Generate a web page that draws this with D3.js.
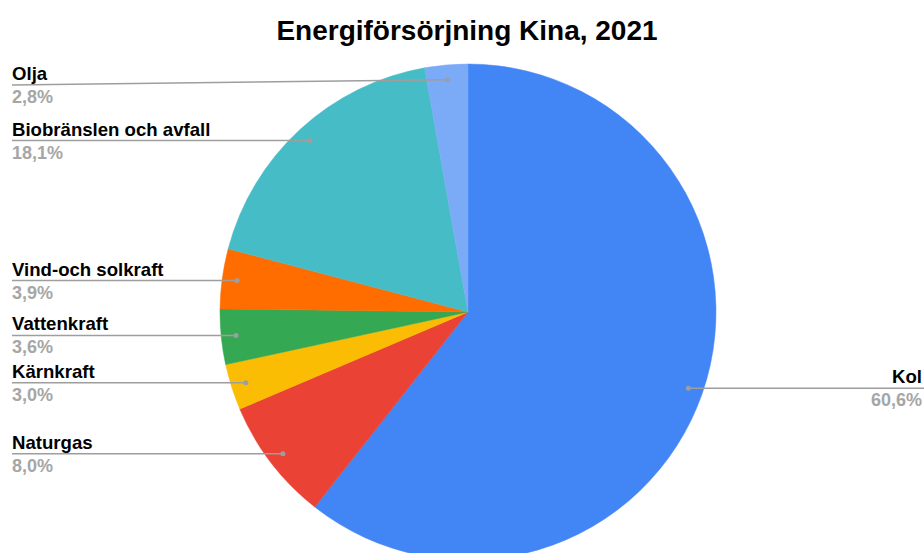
<!DOCTYPE html>
<html>
<head>
<meta charset="utf-8">
<script src="https://cdn.jsdelivr.net/npm/d3@7"></script>
<style>
  body { margin: 0; background: #fff; }
  svg { display: block; font-family: "Liberation Sans", Arial, sans-serif; }
</style>
</head>
<body>
<svg width="924" height="553"></svg>
<script>
var categories = ["Kol", "Naturgas", "Kärnkraft", "Vattenkraft", "Vind-och solkraft", "Biobränslen och avfall", "Olja"];
var values = [60.6, 8.0, 3.0, 3.6, 3.9, 18.1, 2.8];
var colors = ["#4285f4", "#ea4335", "#fbbc04", "#34a853", "#ff6d01", "#46bdc6", "#7baaf7"];
var title = "Energiförsörjning Kina, 2021";

var svg = d3.select("svg"),
    width = +svg.attr("width"),
    radius = 248,
    cx = 468,
    cy = 312;

var data = categories.map(function(c, i) { return {name: c, value: values[i], color: colors[i]}; });

var pie = d3.pie().sort(null).value(function(d) { return d.value; });
var arc = d3.arc().innerRadius(0).outerRadius(radius);
var dotArc = d3.arc().innerRadius(radius * 0.94).outerRadius(radius * 0.94);
var fmt = function(v) { return d3.format(".1f")(v).replace(".", ",") + "%"; };

svg.append("text")
    .attr("x", 467)
    .attr("y", 40)
    .attr("text-anchor", "middle")
    .style("font-weight", "bold")
    .style("font-size", "28px")
    .attr("fill", "#000")
    .text(title);

var g = svg.append("g").attr("transform", "translate(" + cx + "," + cy + ")");
var arcs = pie(data);

g.selectAll("path.slice")
  .data(arcs)
  .enter().append("path")
    .attr("class", "slice")
    .attr("d", arc)
    .attr("fill", function(d) { return d.data.color; })
    .attr("stroke", function(d) { return d.data.color; })
    .attr("stroke-width", 0.5);

var labels = svg.selectAll("g.label")
  .data(arcs)
  .enter().append("g")
    .attr("class", "label");

labels.each(function(d) {
  var c = dotArc.centroid(d),
      px = cx + c[0],
      py = cy + c[1],
      right = px > cx,
      ly = Math.max(py, 85),
      endX = right ? width : 12,
      el = d3.select(this);

  el.append("line")
      .attr("x1", px).attr("y1", py)
      .attr("x2", endX).attr("y2", ly)
      .attr("stroke", "#9e9e9e")
      .attr("stroke-width", 1.5);
  el.append("circle")
      .attr("cx", px).attr("cy", py).attr("r", 2.5)
      .attr("fill", "#9e9e9e");

  var tx = right ? width - 2 : 12,
      anchor = right ? "end" : "start";
  el.append("text")
      .attr("x", tx).attr("y", ly - 5)
      .attr("text-anchor", anchor)
      .style("font-weight", "bold")
      .style("font-size", "18.6px")
      .attr("fill", "#000")
      .text(d.data.name);
  el.append("text")
      .attr("x", tx).attr("y", ly + 18)
      .attr("text-anchor", anchor)
      .style("font-weight", "bold")
      .style("font-size", "18px")
      .attr("fill", "#a6a6a6")
      .text(fmt(d.data.value));
});
</script>
</body>
</html>
